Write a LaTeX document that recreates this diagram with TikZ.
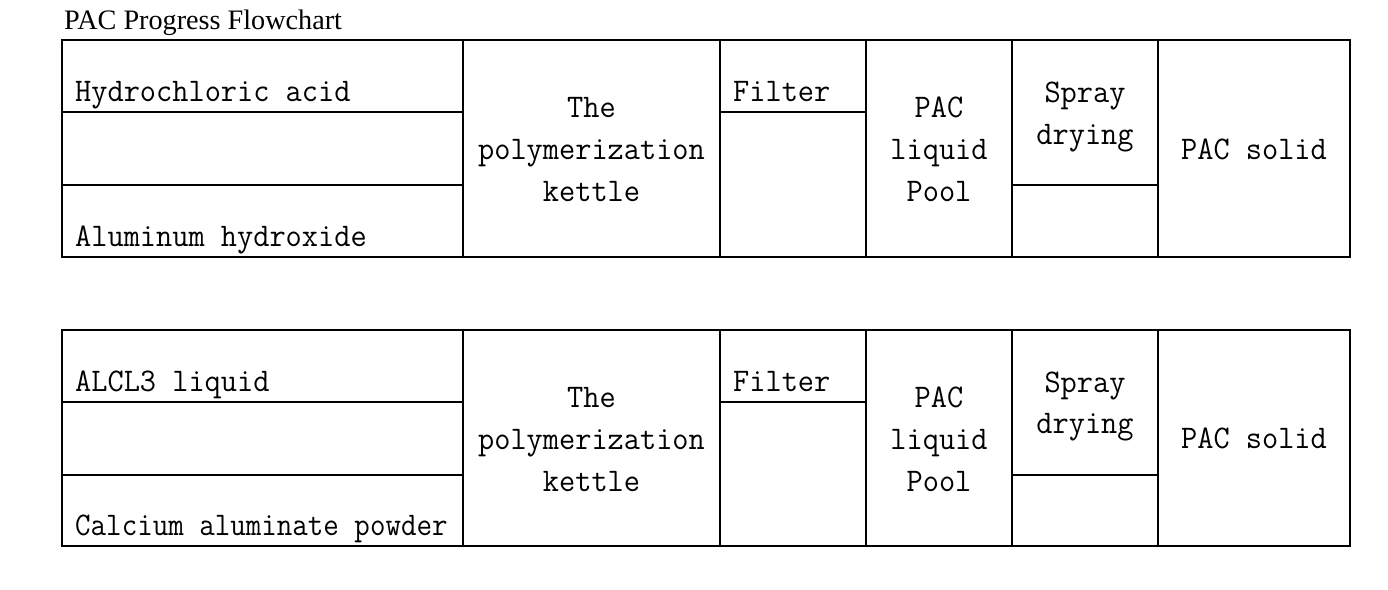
\documentclass[tikz,border=0pt]{standalone}
\usepackage{fontspec}
\setmainfont{Liberation Serif}
\newfontfamily\cellfont[FakeStretch=0.953]{Latin Modern Mono}
\newfontfamily\cellfontn[FakeStretch=0.913]{Latin Modern Mono}
\begin{document}
\begin{tikzpicture}[x=1pt,y=-1pt,
  grid/.style={line width=1.3pt,line cap=rect},
  cell/.style={inner sep=0pt,font=\cellfont\fontsize{33}{42}\selectfont},
  celln/.style={inner sep=0pt,font=\cellfontn\fontsize{33}{42}\selectfont},
  ltxt/.style={cell,anchor=base west},
  ctxt/.style={cell,anchor=base},
  ttl/.style={inner sep=0pt,anchor=base west,font=\fontsize{28.2}{30}\selectfont}]
\useasboundingbox (0,0) rectangle (1388,589);
\fill[white] (0,0) rectangle (1388,589);
\node[ttl] (title) at (64,29) {PAC Progress Flowchart};
% ---------- grids ----------
\foreach \t/\b in {40/257,330/546}{
  \pgfmathsetmacro{\ra}{\t+72}
  \pgfmathsetmacro{\rb}{\t+145}
  \draw[grid] (62,\t) rectangle (1350,\b);
  \foreach \x in {463,720,866,1012,1158}{\draw[grid] (\x,\t) -- (\x,\b);}
  \draw[grid] (62,\ra) -- (463,\ra);
  \draw[grid] (62,\rb) -- (463,\rb);
  \draw[grid] (720,\ra) -- (866,\ra);
  \draw[grid] (1012,\rb) -- (1158,\rb);
}
% ---------- top table ----------
\node[ltxt] (hcl) at (75,101) {Hydrochloric acid};
\node[ltxt] (aloh) at (75,246) {Aluminum hydroxide};
\node[ctxt] (k1) at (591.5,117) {The};
\node[ctxt] (k2) at (591.5,159) {polymerization};
\node[ctxt] (k3) at (591.5,201) {kettle};
\node[ltxt] (f1) at (733,101) {Filter};
\node[ctxt] (p1) at (939,117) {PAC};
\node[ctxt] (p2) at (939,159) {liquid};
\node[ctxt] (p3) at (939,201) {Pool};
\node[ctxt] (s1) at (1085,102) {Spray};
\node[ctxt] (s2) at (1085,144) {drying};
\node[ctxt] (so1) at (1254,159) {PAC solid};
% ---------- bottom table ----------
\node[ltxt] (alcl) at (75,391) {ALCL3 liquid};
\node[celln,anchor=base west] (calc) at (75,535) {Calcium aluminate powder};
\node[ctxt] (k4) at (591.5,407) {The};
\node[ctxt] (k5) at (591.5,449) {polymerization};
\node[ctxt] (k6) at (591.5,491) {kettle};
\node[ltxt] (f2) at (733,391) {Filter};
\node[ctxt] (p4) at (939,407) {PAC};
\node[ctxt] (p5) at (939,449) {liquid};
\node[ctxt] (p6) at (939,491) {Pool};
\node[ctxt] (s3) at (1085,392) {Spray};
\node[ctxt] (s4) at (1085,433) {drying};
\node[ctxt] (so2) at (1254,448) {PAC solid};
\end{tikzpicture}
\end{document}
